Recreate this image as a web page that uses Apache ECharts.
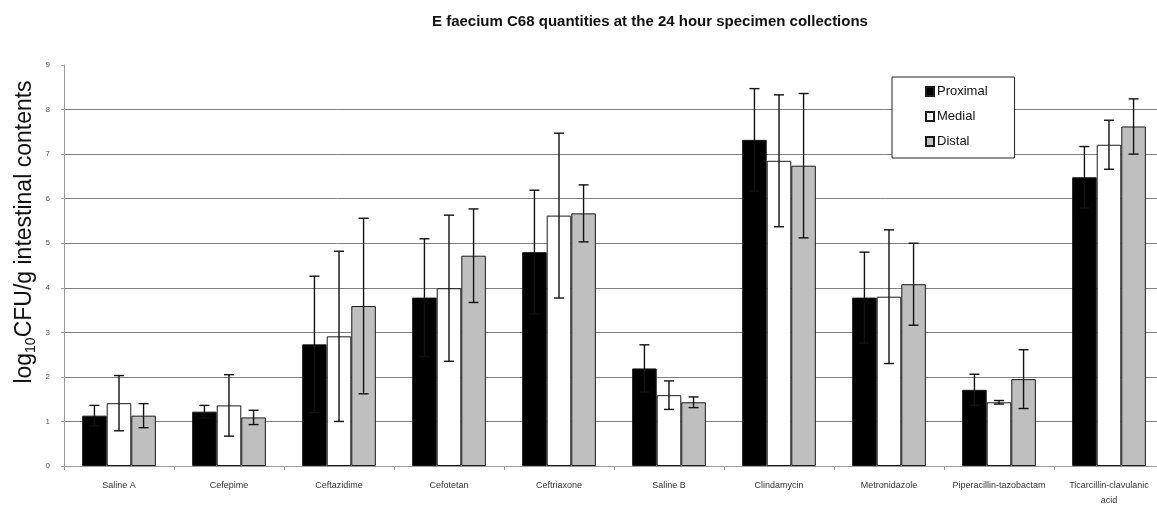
<!DOCTYPE html>
<html>
<head>
<meta charset="utf-8">
<script src="https://cdn.jsdelivr.net/npm/echarts@6/dist/echarts.min.js"></script>
<style>
  html, body { margin: 0; padding: 0; background: #fff; }
  #chart { width: 1157px; height: 507px; }
</style>
</head>
<body>
<div id="chart"></div>
<script>
// Treatment groups along the x axis
const categories = [
  'Saline A', 'Cefepime', 'Ceftazidime', 'Cefotetan', 'Ceftriaxone',
  'Saline B', 'Clindamycin', 'Metronidazole', 'Piperacillin-tazobactam',
  'Ticarcillin-clavulanic\nacid'
];

// Mean log10 CFU/g by intestinal segment
const proximal = [1.13, 1.22, 2.73, 3.78, 4.80, 2.19, 7.32, 3.78, 1.71, 6.48];
const medial   = [1.41, 1.36, 2.91, 3.99, 5.62, 1.59, 6.85, 3.80, 1.43, 7.21];
const distal   = [1.13, 1.09, 3.59, 4.72, 5.67, 1.43, 6.74, 4.08, 1.95, 7.62];

// Standard deviations (error bar half-lengths)
const proximalSd = [0.23, 0.14, 1.53, 1.32, 1.39, 0.53, 1.15, 1.02, 0.35, 0.69];
const medialSd   = [0.62, 0.69, 1.91, 1.64, 1.85, 0.32, 1.48, 1.50, 0.04, 0.55];
const distalSd   = [0.27, 0.16, 1.97, 1.05, 0.64, 0.12, 1.62, 0.92, 0.66, 0.62];

// Y axis ticks
const yTicks = [0, 1, 2, 3, 4, 5, 6, 7, 8, 9];

const seriesNames = ['Proximal', 'Medial', 'Distal'];
const means = [proximal, medial, distal];
const sds = [proximalSd, medialSd, distalSd];
const fills = ['#000000', '#ffffff', '#bfbfbf'];

const CATEGORY_GAP = 0.33;

function renderErrorBar(params, api) {
  const cat = api.value(0);
  const mean = api.value(1);
  const sd = api.value(2);
  const k = api.value(3);
  const band = api.size([1, 0])[0];
  const barW = band * (1 - CATEGORY_GAP) / 3;
  const cx = api.coord([cat, 0])[0] + (k - 1) * barW;
  const yTop = api.coord([cat, mean + sd])[1];
  const yBot = api.coord([cat, mean - sd])[1];
  const half = 5;
  const style = { stroke: '#111', lineWidth: 1.4 };
  return {
    type: 'group',
    children: [
      { type: 'line', shape: { x1: cx, y1: yTop, x2: cx, y2: yBot }, style: style },
      { type: 'line', shape: { x1: cx - half, y1: yTop, x2: cx + half, y2: yTop }, style: style },
      { type: 'line', shape: { x1: cx - half, y1: yBot, x2: cx + half, y2: yBot }, style: style }
    ]
  };
}

const barSeries = seriesNames.map((name, k) => ({
  name: name,
  type: 'bar',
  data: means[k],
  barGap: '0%',
  barCategoryGap: (CATEGORY_GAP * 100) + '%',
  itemStyle: { color: fills[k], borderColor: '#1a1a1a', borderWidth: 1 },
  emphasis: { disabled: true },
  z: 2
}));

const errorSeries = seriesNames.map((name, k) => ({
  name: name + ' SD',
  type: 'custom',
  renderItem: renderErrorBar,
  encode: { x: 0, y: 1 },
  data: categories.map((c, i) => [i, means[k][i], sds[k][i], k]),
  z: 3,
  silent: true
}));

const chart = echarts.init(document.getElementById('chart'), null, { renderer: 'canvas' });

chart.setOption({
  animation: false,
  backgroundColor: '#ffffff',
  textStyle: { fontFamily: 'Liberation Sans, Arial, sans-serif' },
  title: {
    text: 'E faecium C68 quantities at the 24 hour specimen collections',
    left: 432,
    top: 14,
    padding: 0,
    textStyle: { fontSize: 15, fontWeight: 'bold', color: '#111' }
  },
  legend: {
    data: seriesNames,
    orient: 'vertical',
    left: 892,
    top: 77,
    padding: [8, 27, 10, 33],
    itemGap: 12,
    itemWidth: 8,
    itemHeight: 9,
    icon: 'rect',
    backgroundColor: '#ffffff',
    borderColor: '#222',
    borderWidth: 1,
    borderRadius: 0,
    selectedMode: false,
    textStyle: { fontSize: 13, color: '#111', padding: [0, 0, 0, -2] }
  },
  grid: { left: 64, top: 65, width: 1100, height: 401, containLabel: false, outerBoundsMode: 'none' },
  xAxis: {
    type: 'category',
    data: categories,
    axisLine: { lineStyle: { color: '#9a9a9a', width: 1 } },
    axisTick: { show: true, length: 4, lineStyle: { color: '#9a9a9a' } },
    axisLabel: { interval: 0, fontSize: 9, color: '#333', margin: 12, lineHeight: 15 },
    splitLine: { show: false }
  },
  yAxis: {
    type: 'value',
    min: yTicks[0],
    max: yTicks[yTicks.length - 1],
    interval: 1,
    axisLine: { show: true, lineStyle: { color: '#9a9a9a', width: 1 } },
    axisTick: { show: true, length: 3, lineStyle: { color: '#9a9a9a' } },
    axisLabel: { fontSize: 8, color: '#555', margin: 14 },
    splitLine: { show: true, showMaxLine: false, lineStyle: { color: '#808080', width: 1 } }
  },
  graphic: [{
    type: 'text',
    x: 25,
    y: 232,
    rotation: Math.PI / 2,
    style: {
      text: '{a|log}{s|10}{a|CFU/g intestinal contents}',
      align: 'center',
      verticalAlign: 'middle',
      fill: '#111',
      rich: {
        a: { fontSize: 23, lineHeight: 27, fontFamily: 'Liberation Sans, Arial, sans-serif', fill: '#111' },
        s: { fontSize: 14, lineHeight: 14, verticalAlign: 'bottom', fontFamily: 'Liberation Sans, Arial, sans-serif', fill: '#111' }
      }
    }
  }],
  series: barSeries.concat(errorSeries)
});
</script>
</body>
</html>
